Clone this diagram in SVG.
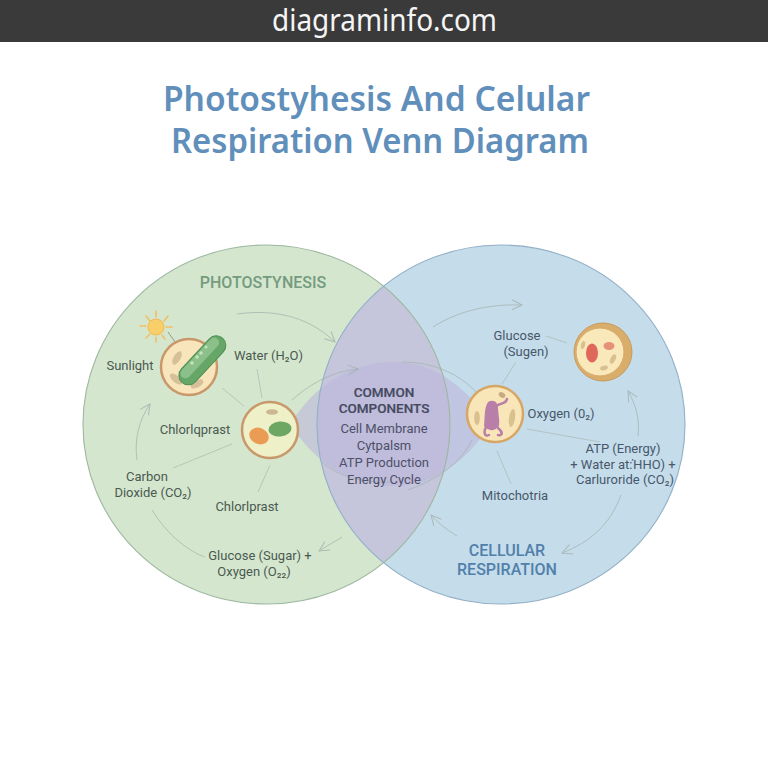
<svg xmlns="http://www.w3.org/2000/svg" width="768" height="768" viewBox="0 0 768 768">
<style>
text{font-family:"Roboto","Noto Sans","DejaVu Sans",sans-serif;text-anchor:middle}
.g{font-size:13px;fill:#4a5a50}
.b{font-size:13px;fill:#47586a}
.c{font-size:13px;fill:#4c5068}
.h{font-size:13.500px;font-weight:500;fill:#454a60;stroke:#454a60;stroke-width:.2}
.ln{fill:none;stroke:#a9b8b0;stroke-width:1;opacity:.7}
.arr{fill:none;stroke:#a3b2ad;stroke-width:.9;opacity:.8}
.wall{stroke:#c8986a;stroke-width:2.500}
</style>
<defs>
<marker id="ah" viewBox="0 0 12 12" refX="11" refY="6" markerWidth="12" markerHeight="12" markerUnits="userSpaceOnUse" orient="auto"><path d="M1 1 L11 6 L1 11" fill="none" stroke="#a3b2ad" stroke-width="1"/></marker>
<clipPath id="clipL"><ellipse cx="266.500" cy="424.500" rx="183.500" ry="179.500"/></clipPath>
</defs>
<rect width="768" height="768" fill="#fff"/>
<g id="header"><rect width="768" height="42" fill="#3a3a3a"/>
<text x="384.500" y="31" font-size="30" fill="#f5f5f5" font-family="Noto Sans" textLength="225" lengthAdjust="spacingAndGlyphs" style="font-family:'Noto Sans'">diagraminfo.com</text></g>
<g id="title" font-size="34" font-weight="600" fill="#5f8fba" style="letter-spacing:0">
<text x="376.500" y="111" textLength="427" lengthAdjust="spacingAndGlyphs" style="font-family:'Noto Sans'">Photostyhesis And Celular</text>
<text x="380" y="153" textLength="418" lengthAdjust="spacingAndGlyphs" style="font-family:'Noto Sans'">Respiration Venn Diagram</text></g>
<g id="venn">
<ellipse id="circle-left" cx="266.500" cy="424.500" rx="183.500" ry="179.500" fill="#d5e6cf"/>
<ellipse id="circle-right" cx="501" cy="424.500" rx="184" ry="179.500" fill="#c5dcea"/>
<ellipse id="overlap" cx="501" cy="424.500" rx="184" ry="179.500" fill="#c5c6dc" clip-path="url(#clipL)"/>
<path id="lens" d="M290 424C315 385 350 362 395 362C435 362 470 390 490 424C470 458 435 486 395 486C350 486 315 463 290 424Z" fill="#bdb5da" fill-opacity=".6"/>
<ellipse cx="266.500" cy="424.500" rx="183.500" ry="179.500" fill="none" stroke="#9db8a0" stroke-width="1.100"/>
<ellipse cx="501" cy="424.500" rx="184" ry="179.500" fill="none" stroke="#93b0c8" stroke-width="1.100"/>
</g>
<g id="connectors">
<path class="arr" marker-end="url(#ah)" d="M237 314C280 308 312 320 335 342"/>
<path class="arr" marker-end="url(#ah)" d="M137 460C134 440 139 420 150 404"/>
<path class="arr" d="M152 510C168 536 190 552 205 557"/>
<path class="arr" marker-end="url(#ah)" d="M342 537L319 551"/>
<path class="arr" marker-end="url(#ah)" d="M292 400C312 382 335 371 358 369"/>
<path class="arr" d="M402 362C435 362 460 375 476 392"/>
<path class="arr" d="M322 462C340 478 365 483 390 482"/>
<path class="arr" d="M472 440C460 465 435 480 408 490"/>
<path class="arr" marker-end="url(#ah)" d="M433 327C460 310 490 304 522 305"/>
<path class="arr" marker-end="url(#ah)" d="M638 436C640 420 636 405 628 391"/>
<path class="arr" marker-end="url(#ah)" d="M621 495C610 525 590 542 562 553"/>
<path class="arr" marker-end="url(#ah)" d="M457 536C447 530 438 523 431 515"/>
<path class="ln" d="M222 388L244 406"/><path class="ln" d="M257 369L262 398"/>
<path class="ln" d="M232 444L173 468"/><path class="ln" d="M270 465L258 492"/>
<path class="ln" d="M546 336L567 343"/><path class="ln" d="M516 362L502 384"/>
<path class="ln" d="M527 429L600 442"/><path class="ln" d="M497 451L511 484"/>
<path class="ln" d="M168 332L178 346" style="stroke:#7a7a60"/>
</g>
<g id="sun">
<circle cx="156" cy="327" r="8" fill="#f8cf68" stroke="#f3b94f"/>
<path d="M156 311V317M156 337V342M140 326H146M166 327H172M146 316L150 321M168 316L164 321M146 338L150 334M165 339L162 335" stroke="#f2bf63" stroke-width="1.600" stroke-linecap="round"/>
</g>
<g id="cell-chloroplast-top">
<circle cx="189" cy="367" r="28" fill="#f8e5bc" class="wall"/>
<ellipse cx="177" cy="358" rx="3.500" ry="7.500" fill="#d5c09a" transform="rotate(30 177 358)"/>
<ellipse cx="176" cy="379" rx="3.500" ry="7.500" fill="#d5c09a" transform="rotate(-50 176 379)"/>
<ellipse cx="197" cy="384" rx="3.500" ry="7" fill="#d5c09a" transform="rotate(60 197 384)"/>
<rect x="172" y="351" width="60" height="19" rx="9.500" fill="#66a768" stroke="#4f8f55" transform="rotate(-47 202 360)"/>
<rect x="176" y="352" width="52" height="10" rx="5" fill="#8cc08a" transform="rotate(-47 202 360)"/>
<g fill="#c4e4b8"><circle cx="192" cy="363" r="1.800"/><circle cx="197" cy="357" r="1.800"/><circle cx="201" cy="353" r="1.800"/><circle cx="206" cy="347" r="1.500"/></g>
</g>
<g id="cell-chloroplast-mid">
<circle cx="270" cy="430" r="28" fill="#eef0c8" class="wall"/>
<ellipse cx="259" cy="436" rx="10" ry="8" fill="#eb9c54" transform="rotate(25 259 436)"/>
<ellipse cx="280" cy="429" rx="11.500" ry="7.500" fill="#6ea663" transform="rotate(-5 280 429)"/>
<ellipse cx="272" cy="412" rx="6" ry="2.800" fill="#cdb692"/>
</g>
<g id="cell-mito">
<circle cx="495" cy="414" r="28" fill="#f8e6b8" stroke="#d6a666" stroke-width="2.500"/>
<ellipse cx="477" cy="418" rx="2.800" ry="7" fill="#d9c08f"/>
<ellipse cx="512" cy="418" rx="3" ry="9" fill="#d9c08f" transform="rotate(8 512 418)"/>
<ellipse cx="502" cy="395" rx="3.500" ry="2.500" fill="#c9a97f" transform="rotate(30 502 395)"/>
<path d="M488 402C493 399 498 402 498 408C498 414 500 420 499 426C494 432 488 431 484 426C485 418 484 408 488 402Z" fill="#b87fa8"/>
<path d="M498 405C503 403 506 403 507 399M486 427C483 433 485 437 489 435M498 428C503 432 503 436 498 435" fill="none" stroke="#b87fa8" stroke-width="2.500" stroke-linecap="round"/>
</g>
<g id="cell-right">
<circle cx="603" cy="352" r="29" fill="#d9ae6a" stroke="#c99a5c"/>
<circle cx="600" cy="352" r="24" fill="#f8e8ba" stroke="#d9a868"/>
<ellipse cx="592" cy="353" rx="6" ry="9.500" fill="#e0685a"/>
<ellipse cx="609" cy="346" rx="5.500" ry="4" fill="#e69078"/>
<ellipse cx="583" cy="345" rx="2" ry="4" fill="#d9c08f" transform="rotate(15 583 345)"/>
<ellipse cx="613" cy="359" rx="2.500" ry="5" fill="#d9c08f" transform="rotate(25 613 359)"/>
<ellipse cx="604" cy="368" rx="4" ry="2.200" fill="#d9c08f" transform="rotate(-15 604 368)"/>
</g>
<g id="labels-left">
<text x="263" y="288" font-size="16" font-weight="500" fill="#749b7e">PHOTOSTYNESIS</text>
<text class="g" x="130" y="370">Sunlight</text>
<text class="g" x="268.500" y="360">Water (H₂O)</text>
<text class="g" x="195" y="434">Chlorlqprast</text>
<text class="g" x="147" y="481">Carbon</text>
<text class="g" x="153" y="497">Dioxide (CO₂)</text>
<text class="g" x="247" y="511">Chlorlprast</text>
<text class="g" x="260" y="560">Glucose (Sugar) +</text>
<text class="g" x="254" y="576">Oxygen (O₂₂)</text>
</g>
<g id="labels-common">
<text class="h" x="384" y="397">COMMON</text>
<text class="h" x="384" y="413">COMPONENTS</text>
<text class="c" x="384" y="433">Cell Membrane</text>
<text class="c" x="384" y="450">Cytpalsm</text>
<text class="c" x="384" y="467">ATP Production</text>
<text class="c" x="384" y="484">Energy Cycle</text>
</g>
<g id="labels-right">
<text class="b" x="517" y="340">Glucose</text>
<text class="b" x="526" y="356">(Sugen)</text>
<text class="b" x="561" y="418">Oxygen (0₂)</text>
<text class="b" x="623" y="453">ATP (Energy)</text>
<text class="b" x="623" y="469">+ Water at:ΉHO) +</text>
<text class="b" x="625" y="484">Carluroride (CO₂)</text>
<text class="b" x="515" y="500">Mitochotria</text>
<text x="507" y="556" font-size="16" font-weight="500" fill="#5180aa">CELLULAR</text>
<text x="507" y="575" font-size="16" font-weight="500" fill="#5180aa">RESPIRATION</text>
</g>
</svg>
